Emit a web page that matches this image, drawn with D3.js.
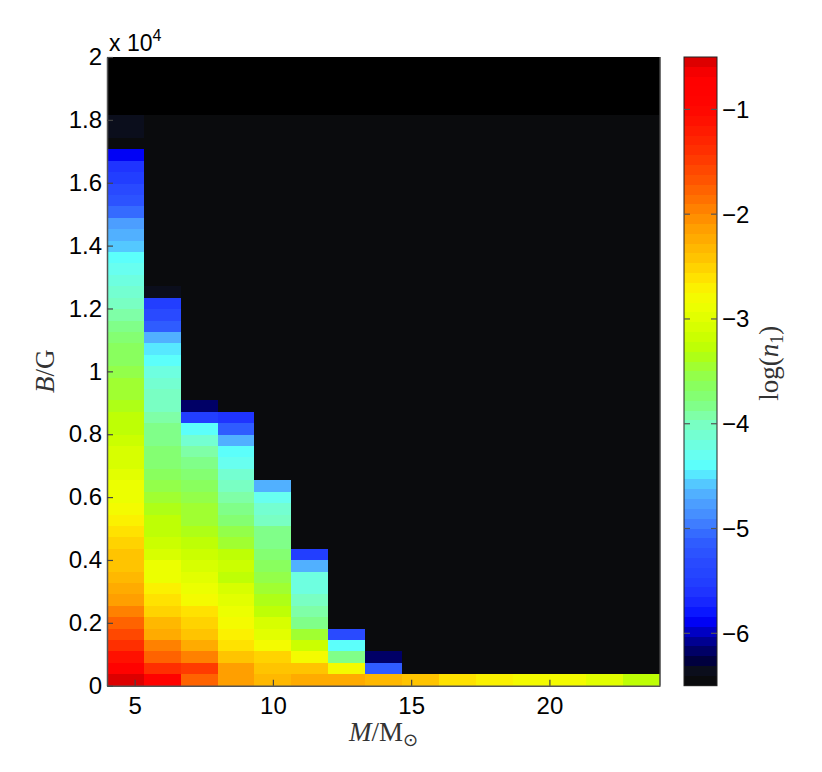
<!DOCTYPE html>
<html><head><meta charset="utf-8">
<script src="https://cdn.jsdelivr.net/npm/d3@7/dist/d3.min.js"></script>
<style>body{margin:0;background:#fff}</style>
</head><body><svg id="c" width="822" height="772"></svg>
<script>
// ---------------- data ----------------
const massEdges = [4, 5.3333, 6.6667, 8, 9.3333, 10.6667, 12, 13.3333, 14.6667, 16, 17.3333, 18.6667, 20, 21.3333, 22.6667, 24];
const bRowStep = 363;      // G per row
const bRowCount = 50;
// log(n1) per mass bin, from the lowest B row upward (null = empty cell)
const logN1_m4_7 = [-0.55,-0.8,-1.15,-1.35,-1.55,-1.75,-1.95,-2.1,-2.2,-2.3,-2.38,-2.45,-2.52,-2.62,-2.72,-2.8,-2.87,-2.93,-3.0,-3.05,-3.12,-3.2,-3.25,-3.3,-3.36,-3.42,-3.47,-3.55,-3.6,-3.66,-3.75,-3.83,-3.9,-4.0,-4.1,-4.2,-4.3,-4.4,-4.55,-4.66,-4.8,-5.05,-5.25,-5.35,-5.55,-5.65,-5.92,null,-6.4,-6.4];
const logN1_m6_0 = [-0.8,-1.4,-1.8,-2.0,-2.2,-2.3,-2.5,-2.6,-2.7,-2.85,-2.9,-3.08,-3.18,-3.25,-3.3,-3.4,-3.5,-3.58,-3.65,-3.7,-3.78,-3.82,-3.86,-3.95,-4.0,-4.05,-4.15,-4.2,-4.4,-4.52,-4.65,-5.1,-5.3,-5.55,-6.4];
const logN1_m7_3 = [-1.8,-1.45,-2.0,-2.2,-2.42,-2.5,-2.6,-2.78,-2.88,-3.0,-3.12,-3.2,-3.25,-3.35,-3.42,-3.5,-3.58,-3.65,-3.7,-3.85,-3.95,-4.1,-4.4,-5.5,-6.2];
const logN1_m8_7 = [-2.1,-2.15,-2.45,-2.6,-2.72,-2.82,-2.9,-3.0,-3.05,-3.22,-3.2,-3.3,-3.42,-3.52,-3.7,-3.85,-3.92,-4.02,-4.15,-4.3,-4.4,-4.65,-5.1,-5.65];
const logN1_m10_0 = [-2.3,-2.42,-2.55,-2.82,-2.95,-3.08,-3.3,-3.35,-3.42,-3.52,-3.65,-3.72,-3.8,-3.87,-3.97,-4.12,-4.3,-4.65];
const logN1_m11_3 = [-2.25,-2.4,-2.8,-3.2,-3.45,-3.8,-3.92,-4.02,-4.2,-4.25,-4.65,-5.5];
const logN1_m12_7 = [-2.2,-2.8,-3.8,-4.4,-5.35];
const logN1_m14_0 = [-2.3,-5.1,-6.2];
const logN1_m15_3 = [-2.4];
const logN1_m16_7 = [-2.6];
const logN1_m18_0 = [-2.72];
const logN1_m19_3 = [-2.8];
const logN1_m20_7 = [-2.82];
const logN1_m22_0 = [-3.0];
const logN1_m23_3 = [-3.22];
const columns = [logN1_m4_7, logN1_m6_0, logN1_m7_3, logN1_m8_7, logN1_m10_0, logN1_m11_3, logN1_m12_7,
  logN1_m14_0, logN1_m15_3, logN1_m16_7, logN1_m18_0, logN1_m19_3, logN1_m20_7, logN1_m22_0, logN1_m23_3];

const xDomain = [4, 24];
const yDomain = [0, 20000];
const xTicks = [5, 10, 15, 20];
const yTicks = [0, 2000, 4000, 6000, 8000, 10000, 12000, 14000, 16000, 18000, 20000];
const yTickLabels = ["0", "0.2", "0.4", "0.6", "0.8", "1", "1.2", "1.4", "1.6", "1.8", "2"];
const cbDomain = [-6.5, -0.5];
const cbTicks = [-6, -5, -4, -3, -2, -1];
const cbTickLabels = ["\u22126", "\u22125", "\u22124", "\u22123", "\u22122", "\u22121"];
const nLevels = 64;

// ---------------- colormap (style) ----------------
const cmapStops = [[-6.5,"#0a0b0d"],[-6.41,"#0a0b0d"],[-6.36,"#0b0e1c"],[-6.27,"#00003c"],[-6.18,"#000062"],[-6.08,"#000090"],[-5.99,"#0000c0"],[-5.9,"#0000f4"],[-5.8,"#0a16ff"],[-5.65,"#1e30ff"],[-5.5,"#2240ff"],[-5.3,"#2a4cff"],[-5.1,"#3060ff"],[-4.9,"#4488ff"],[-4.7,"#50a8ff"],[-4.55,"#55d0ff"],[-4.42,"#58ffff"],[-4.3,"#68fff0"],[-4.15,"#72ffd8"],[-4.0,"#7affc0"],[-3.9,"#80ffa0"],[-3.8,"#80ff80"],[-3.65,"#88ff60"],[-3.5,"#98ff40"],[-3.4,"#a8ff20"],[-3.3,"#b8ff08"],[-3.2,"#c8ff00"],[-3.1,"#d4ff00"],[-3.0,"#e0ff00"],[-2.85,"#f0ff00"],[-2.75,"#f8f800"],[-2.65,"#ffe800"],[-2.55,"#ffd800"],[-2.45,"#ffc800"],[-2.3,"#ffb400"],[-2.15,"#ffa000"],[-2.0,"#ff8800"],[-1.85,"#ff7000"],[-1.7,"#ff5800"],[-1.55,"#ff4400"],[-1.4,"#ff3000"],[-1.25,"#ff2000"],[-1.1,"#ff1000"],[-0.95,"#ff0400"],[-0.7,"#ff0000"],[-0.6,"#ee0000"],[-0.55,"#dd0000"],[-0.5,"#d80000"]];
const interp = d3.scaleLinear().domain(cmapStops.map(s => s[0])).range(cmapStops.map(s => s[1]))
  .interpolate(d3.interpolateRgb).clamp(true);
const levelScale = d3.scaleQuantize().domain(cbDomain).range(d3.range(nLevels));
const levelValue = i => cbDomain[0] + (i + 0.5) * (cbDomain[1] - cbDomain[0]) / nLevels;
const colorOf = v => interp(levelValue(v == null ? 0 : levelScale(Math.max(cbDomain[0], Math.min(cbDomain[1], v)))));

// ---------------- layout ----------------
const L = 107, R = 660, T = 57, B = 685.7;
const svg = d3.select("#c");
const x = d3.scaleLinear().domain(xDomain).range([L, R]);
const y = d3.scaleLinear().domain(yDomain).range([B, T]);

svg.append("rect").attr("x", L).attr("y", T).attr("width", R - L).attr("height", B - T).attr("fill", "#000");

const cells = [];
columns.forEach((col, i) => {
  for (let k = 0; k < bRowCount; k++) {
    cells.push({m0: massEdges[i], m1: massEdges[i + 1], b0: k * bRowStep, b1: (k + 1) * bRowStep, v: k < col.length ? col[k] : null});
  }
});
svg.append("g").selectAll("rect").data(cells).join("rect")
  .attr("x", d => x(d.m0)).attr("width", d => x(d.m1) - x(d.m0))
  .attr("y", d => y(d.b1)).attr("height", d => y(d.b0) - y(d.b1))
  .attr("fill", d => colorOf(d.v)).attr("shape-rendering", "crispEdges");

const font = "'Liberation Sans', Arial, Helvetica, sans-serif";
const xAxis = svg.append("g").attr("transform", `translate(0,${B})`)
  .call(d3.axisBottom(x).tickValues(xTicks).tickSizeInner(-6).tickSizeOuter(0).tickPadding(11));
const yAxis = svg.append("g").attr("transform", `translate(${L},0)`)
  .call(d3.axisLeft(y).tickValues(yTicks).tickFormat((d, i) => yTickLabels[i]).tickSizeInner(-6).tickSizeOuter(0).tickPadding(5));
[xAxis, yAxis].forEach(g => {
  g.selectAll("text").attr("font-family", font).attr("font-size", 24).attr("fill", "#000");
  g.selectAll(".tick line").attr("stroke", "#444").attr("stroke-width", 1.2);
  g.select(".domain").attr("stroke", "#555").attr("stroke-width", 1.5);
});
// right frame line
svg.append("line").attr("x1", R).attr("x2", R).attr("y1", T).attr("y2", B).attr("stroke", "#444").attr("stroke-width", 1.5);

// exponent label
const ex = svg.append("text").attr("x", 109).attr("y", 51).attr("font-family", font).attr("font-size", 23).attr("fill", "#000");
ex.append("tspan").text("x 10");
ex.append("tspan").attr("dy", -10).attr("font-size", 16).text("4");

// axis labels
const serif = "'Liberation Serif', 'DejaVu Serif', serif";
const xl = svg.append("text").attr("x", (L + R) / 2).attr("y", 741).attr("text-anchor", "middle")
  .attr("font-family", serif).attr("font-size", 27).attr("fill", "#333");
xl.append("tspan").attr("font-style", "italic").text("M");
xl.append("tspan").text("/M");
xl.append("tspan").attr("dy", 5).attr("font-size", 18).attr("font-family", "'DejaVu Sans', sans-serif").text("\u2299");

const yl = svg.append("text").attr("transform", `translate(54,${(T + B) / 2}) rotate(-90)`).attr("text-anchor", "middle")
  .attr("font-family", serif).attr("font-size", 27).attr("fill", "#333");
yl.append("tspan").attr("font-style", "italic").text("B");
yl.append("tspan").text("/G");

// colorbar
const CL = 684, CR = 717;
const cy = d3.scaleLinear().domain(cbDomain).range([B, T]);
const levels = d3.range(nLevels);
const edge = i => cy(cbDomain[0] + i * (cbDomain[1] - cbDomain[0]) / nLevels);
svg.append("g").selectAll("rect").data(levels).join("rect")
  .attr("x", CL).attr("width", CR - CL)
  .attr("y", i => edge(i + 1)).attr("height", i => edge(i) - edge(i + 1))
  .attr("fill", i => interp(levelValue(i))).attr("shape-rendering", "crispEdges");
svg.append("rect").attr("x", CL).attr("y", T).attr("width", CR - CL).attr("height", B - T)
  .attr("fill", "none").attr("stroke", "#222").attr("stroke-width", 1);
const cbt = svg.append("g").selectAll("g").data(cbTicks).join("g");
cbt.append("line").attr("x1", CL).attr("x2", CL + 6).attr("y1", d => cy(d)).attr("y2", d => cy(d)).attr("stroke", "#555").attr("stroke-width", 1.2);
cbt.append("line").attr("x1", CR - 6).attr("x2", CR).attr("y1", d => cy(d)).attr("y2", d => cy(d)).attr("stroke", "#555").attr("stroke-width", 1.2);
cbt.append("text").attr("x", CR + 5).attr("y", d => cy(d)).attr("dy", "0.35em")
  .attr("font-family", font).attr("font-size", 24).attr("fill", "#000").text((d, i) => cbTickLabels[i]);

const cl = svg.append("text").attr("transform", `translate(778,${(T + B) / 2 - 8}) rotate(-90)`).attr("text-anchor", "middle")
  .attr("font-family", serif).attr("font-size", 27).attr("fill", "#333");
cl.append("tspan").text("log(");
cl.append("tspan").attr("font-style", "italic").text("n");
cl.append("tspan").attr("dy", 5).attr("font-size", 18).text("1");
cl.append("tspan").attr("dy", -5).text(")");
</script></body></html>
